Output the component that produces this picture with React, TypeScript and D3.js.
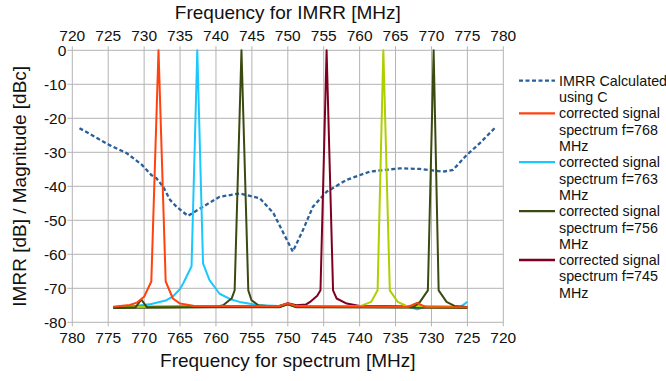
import * as d3 from "d3";

// IMRR curve, x in IMRR frequency (top axis)
const imrrFreq = [721, 725.2, 727.6, 729.7, 731, 731.7, 732.7, 733.6, 734.5, 736.1, 738.2, 740.5, 743.3, 746.1, 748, 749.4, 750.7, 752.1, 753.5, 755.4, 758.2, 761.4, 765.6, 768.4, 771.6, 773, 774.9, 776.7, 778.8];
const imrrDb = [-22.9, -27.9, -30.3, -33.7, -36.7, -37.6, -40.3, -44, -46, -48.7, -46, -43.1, -42.1, -43.5, -47.9, -53.8, -59.2, -52.9, -46, -41.6, -38.1, -35.7, -34.7, -34.9, -35.7, -35.2, -30.8, -27.4, -22.9];

// spectra, x in spectrum frequency (bottom axis)
const spec768: [number, number][] = [[774.3, -75.4], [772, -74.9], [771, -74.2], [770, -72.5], [769, -68], [768, 0], [767, -68], [766, -73], [765, -74.5], [763, -75.2], [751.2, -75.3], [750, -74.4], [748.8, -75.3], [733.3, -75.5], [732, -74.3], [730.7, -75.6], [725, -75.6]];
const spec763: [number, number][] = [[774.3, -75.6], [771, -75.1], [769, -74.6], [767, -73.6], [766, -72.4], [765, -70.2], [764.5, -68.3], [763.4, -63.5], [762.6, 0], [761.8, -62.7], [760.9, -67.6], [759.5, -71.6], [758, -73.2], [756.7, -74], [754, -75], [751.2, -75.2], [750, -74.5], [748.8, -75.2], [733, -75.5], [732, -76.2], [731, -75.6], [726, -75.5], [725, -74]];
const spec756: [number, number][] = [[774.3, -75.8], [760, -75.5], [759, -75], [757.8, -72.9], [757.4, -70.6], [756.45, 0], [755.5, -70.6], [755.05, -73.5], [754.1, -75], [751.2, -75.5], [750, -74.6], [748.8, -75.5], [725, -75.8]];
const spec745: [number, number][] = [[774.3, -75.5], [751.2, -75.2], [750, -74.4], [748.8, -75], [747.5, -74.8], [746.9, -74], [745.9, -72.2], [745.45, -70.6], [744.6, 0], [743.7, -70.6], [743.2, -73], [741.8, -74.5], [740, -75.2], [725, -75.5]];
const spec737: [number, number][] = [[774.3, -75.5], [751.2, -75.3], [750, -74.6], [748.8, -75.3], [740, -75.3], [738.4, -74], [737.5, -70.6], [736.7, 0], [735.8, -70.6], [734.7, -74], [733.5, -75.2], [725, -75.5]];
const spec730: [number, number][] = [[774.3, -75.8], [771.2, -75.6], [770.4, -73.3], [769.6, -75.6], [751.2, -75.6], [750, -74.7], [748.8, -75.6], [732.5, -75.5], [731.6, -74], [730.5, -70.6], [729.7, 0], [729, -70.6], [727.9, -74], [726.8, -75.2], [725, -75.5]];

const topTicks = [720, 725, 730, 735, 740, 745, 750, 755, 760, 765, 770, 775, 780];
const bottomTicks = [780, 775, 770, 765, 760, 755, 750, 745, 740, 735, 730, 725, 720];
const yTicks = [0, -10, -20, -30, -40, -50, -60, -70, -80];

const legendItems = [
  { lines: ["IMRR Calculated", "using C"], color: "#2a6099", dash: true },
  { lines: ["corrected signal", "spectrum f=768", "MHz"], color: "#ff420e", dash: false },
  { lines: ["corrected signal", "spectrum f=763", "MHz"], color: "#1ac8ff", dash: false },
  { lines: ["corrected signal", "spectrum f=756", "MHz"], color: "#3b4a10", dash: false },
  { lines: ["corrected signal", "spectrum f=745", "MHz"], color: "#7e0021", dash: false },
];

const W = 666;
const H = 381;
const left = 72.3;
const right = 503.3;
const top = 50.3;
const bottom = 322.3;
const font = "'Liberation Sans', Arial, sans-serif";
const grid = "#b3b3b3";

export default function App() {
  const xTop = d3.scaleLinear().domain([720, 780]).range([left, right]);
  const xBottom = d3.scaleLinear().domain([780, 720]).range([left, right]);
  const y = d3.scaleLinear().domain([-80, 0]).range([bottom, top]);

  const imrrLine = d3
    .line<number>()
    .x((_, i) => xTop(imrrFreq[i]))
    .y((d) => y(d));

  const specLine = d3
    .line<[number, number]>()
    .x((d) => xBottom(d[0]))
    .y((d) => y(d[1]));

  const spectra = [
    { data: spec763, color: "#1ac8ff" },
    { data: spec756, color: "#3b4a10" },
    { data: spec745, color: "#7e0021" },
    { data: spec737, color: "#aecf00" },
    { data: spec730, color: "#3b4a10" },
    { data: spec768, color: "#ff420e" },
  ];

  let ly = 80.7;
  const lh = 16.3;

  return (
    <svg
      width={W}
      height={H}
      style={{ position: "absolute", left: 0, top: 0, background: "#fff" }}
      fontFamily={font}
    >
      {/* grid */}
      {topTicks.map((t) => (
        <line key={"vx" + t} x1={xTop(t)} x2={xTop(t)} y1={top} y2={bottom} stroke={grid} strokeWidth={1} />
      ))}
      {yTicks.map((t) => (
        <line key={"hy" + t} x1={left} x2={right} y1={y(t)} y2={y(t)} stroke={grid} strokeWidth={1} />
      ))}

      {/* ticks */}
      {yTicks.map((t) => (
        <g key={"yt" + t}>
          <line x1={left - 5} x2={left} y1={y(t)} y2={y(t)} stroke={grid} />
          <text x={left - 6} y={y(t)} dy="0.36em" textAnchor="end" fontSize={15.5} fill="#111">
            {t}
          </text>
        </g>
      ))}
      {topTicks.map((t) => (
        <g key={"tt" + t}>
          <line x1={xTop(t)} x2={xTop(t)} y1={top - 4} y2={top} stroke={grid} />
          <text x={xTop(t)} y={40.5} textAnchor="middle" fontSize={15.5} fill="#111">
            {t}
          </text>
        </g>
      ))}
      {bottomTicks.map((t) => (
        <g key={"bt" + t}>
          <line x1={xBottom(t)} x2={xBottom(t)} y1={bottom} y2={bottom + 4} stroke={grid} />
          <text x={xBottom(t)} y={342.5} textAnchor="middle" fontSize={15.5} fill="#111">
            {t}
          </text>
        </g>
      ))}

      {/* axis titles */}
      <text x={(left + right) / 2} y={19} textAnchor="middle" fontSize={19} fill="#111">
        Frequency for IMRR [MHz]
      </text>
      <text x={(left + right) / 2} y={367} textAnchor="middle" fontSize={19} fill="#111">
        Frequency for spectrum [MHz]
      </text>
      <text
        transform={`translate(26,${(top + bottom) / 2}) rotate(-90)`}
        textAnchor="middle"
        fontSize={19}
        fill="#111"
      >
        IMRR [dB] / Magnitude [dBc]
      </text>

      {/* series */}
      <path
        d={imrrLine(imrrDb) || ""}
        fill="none"
        stroke="#2a6099"
        strokeWidth={2.3}
        strokeDasharray="4 2.5"
      />
      {spectra.map((s, i) => (
        <path
          key={i}
          d={specLine(s.data) || ""}
          fill="none"
          stroke={s.color}
          strokeWidth={2}
          strokeLinejoin="round"
        />
      ))}

      {/* legend */}
      {legendItems.map((item, i) => {
        const y0 = ly;
        ly += item.lines.length * lh;
        return (
          <g key={"lg" + i}>
            <line
              x1={519}
              x2={555}
              y1={y0}
              y2={y0}
              stroke={item.color}
              strokeWidth={2.3}
              strokeDasharray={item.dash ? "4 2.5" : undefined}
            />
            {item.lines.map((l, j) => (
              <text key={j} x={559} y={y0 + j * lh} dy="0.36em" fontSize={14.3} fill="#111">
                {l}
              </text>
            ))}
          </g>
        );
      })}
    </svg>
  );
}
